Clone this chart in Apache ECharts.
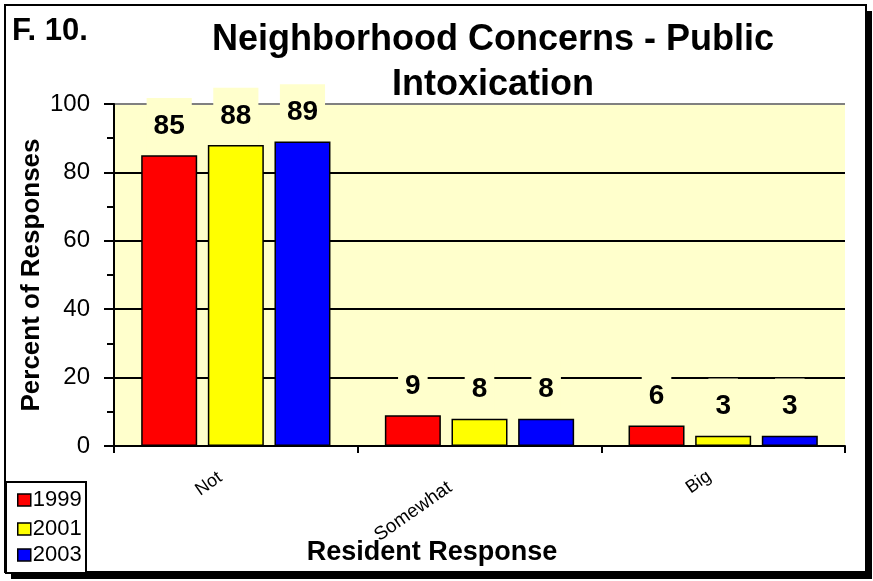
<html>
<head>
    <script src="https://cdnjs.cloudflare.com/ajax/libs/echarts/6.0.0/echarts.min.js"></script>
    <style>
        body { margin: 0; background: #fff; }
        #graph { width: 873px; height: 581px; }
    </style>
</head>
<body>
    <div id="graph"></div>
    <script>
        var categories = ['Not', 'Somewhat', 'Big'];
        var years = ['1999', '2001', '2003'];
        var values1999 = [85, 9, 6];
        var values2001 = [88, 8, 3];
        var values2003 = [89, 8, 3];
        var colors = ['#FF0000', '#FFFF00', '#0000FF'];

        var allValues = [values1999, values2001, values2003];
        var series = [];
        for (let i = 0; i < years.length; i++) {
            series.push({
                name: years[i],
                type: 'bar',
                data: allValues[i],
                barWidth: 56,
                barGap: '19%',
                itemStyle: { color: colors[i], borderColor: '#000', borderWidth: 1.5 },
                label: {
                    show: true,
                    position: 'top',
                    distance: 2,
                    color: '#000',
                    fontFamily: 'Liberation Sans',
                    fontWeight: 'bold',
                    fontSize: 28,
                    backgroundColor: '#FFFFCC',
                    padding: [4, 7, 3, 7]
                }
            });
        }

        // one legend per year so the items stack like the original box
        var legendTops = [476, 505, 531];
        var legends = [];
        for (let i = 0; i < years.length; i++) {
            legends.push({
                left: 12,
                top: legendTops[i],
                itemWidth: 13,
                itemHeight: 12,
                icon: 'rect',
                data: [years[i]],
                itemStyle: { borderColor: '#000', borderWidth: 1.5 },
                textStyle: { fontSize: 22, color: '#000', padding: [0, 0, 0, -3] }
            });
        }

        var labelPad = { 'Not': 19, 'Somewhat': 36, 'Big': 17 };

        var chart = echarts.init(document.getElementById('graph'));
        var option = {
            animation: false,
            backgroundColor: '#fff',
            textStyle: { fontFamily: 'Liberation Sans' },
            title: {
                text: 'Neighborhood Concerns - Public\nIntoxication',
                left: 488,
                textAlign: 'center',
                top: 13,
                textStyle: { fontSize: 36, fontWeight: 'bold', color: '#000', lineHeight: 45, fontFamily: 'Liberation Sans' }
            },
            legend: legends,
            grid: { left: 114, right: 28, top: 104, bottom: 135, outerBoundsMode: 'none', containLabel: false, show: true, backgroundColor: '#FFFFCC', borderWidth: 0 },
            xAxis: {
                type: 'category',
                data: categories,
                name: 'Resident Response',
                nameLocation: 'middle',
                nameGap: 83,
                nameMoveOverlap: false,
                nameTextStyle: { fontSize: 27, fontWeight: 'bold', color: '#000', padding: [0, 0, 0, -95] },
                axisLine: { lineStyle: { color: '#000', width: 2 } },
                axisTick: { show: true, length: 7, lineStyle: { color: '#000', width: 2 } },
                axisLabel: {
                    rotate: 35, fontSize: 18, color: '#000', margin: 19,
                    formatter: function (v) { return '{' + v + '|' + v + '}'; },
                    rich: {
                        'Not': { fontSize: 18, padding: [0, labelPad['Not'], 0, 0] },
                        'Somewhat': { fontSize: 19, padding: [0, labelPad['Somewhat'], 0, 0] },
                        'Big': { fontSize: 18, padding: [0, labelPad['Big'], 0, 0] }
                    }
                }
            },
            yAxis: {
                type: 'value',
                min: 0,
                max: 100,
                interval: 20,
                name: 'Percent of Responses',
                nameLocation: 'middle',
                nameGap: 60,
                nameMoveOverlap: false,
                nameTextStyle: { fontSize: 26, fontWeight: 'bold', color: '#000' },
                axisLine: { show: true, lineStyle: { color: '#000', width: 2 } },
                axisTick: { show: true, length: 10, lineStyle: { color: '#000', width: 2 } },
                minorTick: { show: true, splitNumber: 2, length: 7, lineStyle: { color: '#000', width: 2 } },
                axisLabel: { fontSize: 24, color: '#000', margin: 24 },
                splitLine: { show: true, lineStyle: { color: ['#000', '#000', '#000', '#000', '#000', '#808080'], width: 2 } }
            },
            graphic: [
                { type: 'rect', z: -10, shape: { x: 11, y: 11, width: 861, height: 568 }, style: { fill: '#000' } },
                { type: 'rect', z: -9, shape: { x: 5, y: 5, width: 861, height: 567 }, style: { fill: '#fff', stroke: '#000', lineWidth: 2 } },
                { type: 'rect', z: -5, shape: { x: 6, y: 482, width: 80, height: 91 }, style: { fill: '#fff', stroke: '#000', lineWidth: 2 } },
                { type: 'text', left: 12, top: 5, style: { text: 'F. 10.', fontSize: 31, fontWeight: 'bold', fill: '#000', fontFamily: 'Liberation Sans' } }
            ],
            series: series
        };
        chart.setOption(option);
    </script>
</body>
</html>
